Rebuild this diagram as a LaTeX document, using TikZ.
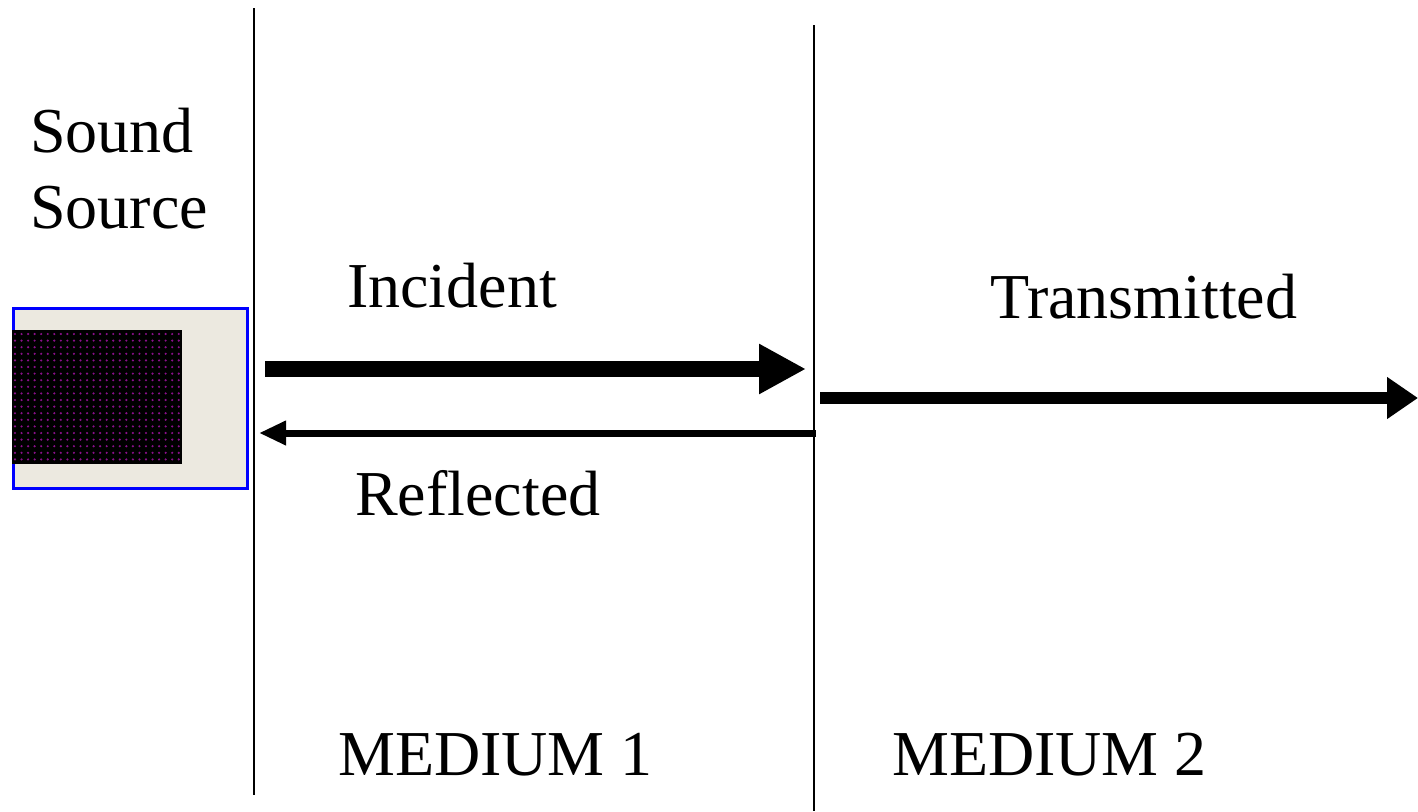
\documentclass[tikz,border=0pt]{standalone}
\usepackage{fontspec}
\setmainfont{Liberation Serif}
\usetikzlibrary{arrows.meta}
\definecolor{boxbg}{HTML}{ECE9E0}
\definecolor{dotcol}{HTML}{8A108A}
\tikzset{
  lbl/.style={anchor=base west,inner sep=0pt,font=\fontsize{64}{70}\selectfont},
  divider/.style={line width=2.5pt,black},
}
\begin{document}
\begin{tikzpicture}[x=1pt,y=-1pt]
\useasboundingbox (0,0) rectangle (1418,811);
% dividers
\draw[divider] (254,8) coordinate (d1a) -- (254,795) coordinate (d1b);
\draw[divider] (814,25) coordinate (d2a) -- (814,811) coordinate (d2b);
% sound source
\node[draw=blue,line width=2.5pt,fill=boxbg,minimum width=234pt,minimum height=180pt,inner sep=0pt,anchor=north west] (src) at (12,307) {};
\fill[black] (12,330) rectangle (182,464);
\foreach \i in {0,...,25}{
  \foreach \j in {0,...,19}{
    \fill[dotcol] ({15+\i*6.55},{334+\j*6.6}) circle (1.2pt);
  }
}
% labels
\node[lbl] (sound) at (30,152) {Sound};
\node[lbl] (source) at (30,228) {Source};
\node[lbl] (inc) at (347,307) {Incident};
\node[lbl] (trans) at (990,318) {Transmitted};
\node[lbl] (refl) at (355,515) {Reflected};
\node[lbl] (m1) at (338,775) {MEDIUM 1};
\node[lbl] (m2) at (892,775) {MEDIUM 2};
% arrows
\coordinate (ia) at (265,369);
\coordinate (ib) at (806,369);
\coordinate (ra) at (816,433);
\coordinate (rb) at (259,433);
\coordinate (ta) at (820,398);
\coordinate (tb) at (1418,398);
\draw[line width=16pt,-{Triangle[length=47pt,width=47pt]}] (ia) -- (ib);
\draw[line width=7pt,-{Triangle[length=27pt,width=23pt]}] (ra) -- (rb);
\draw[line width=12pt,-{Triangle[length=31pt,width=40pt]}] (ta) -- (tb);
\end{tikzpicture}
\end{document}
